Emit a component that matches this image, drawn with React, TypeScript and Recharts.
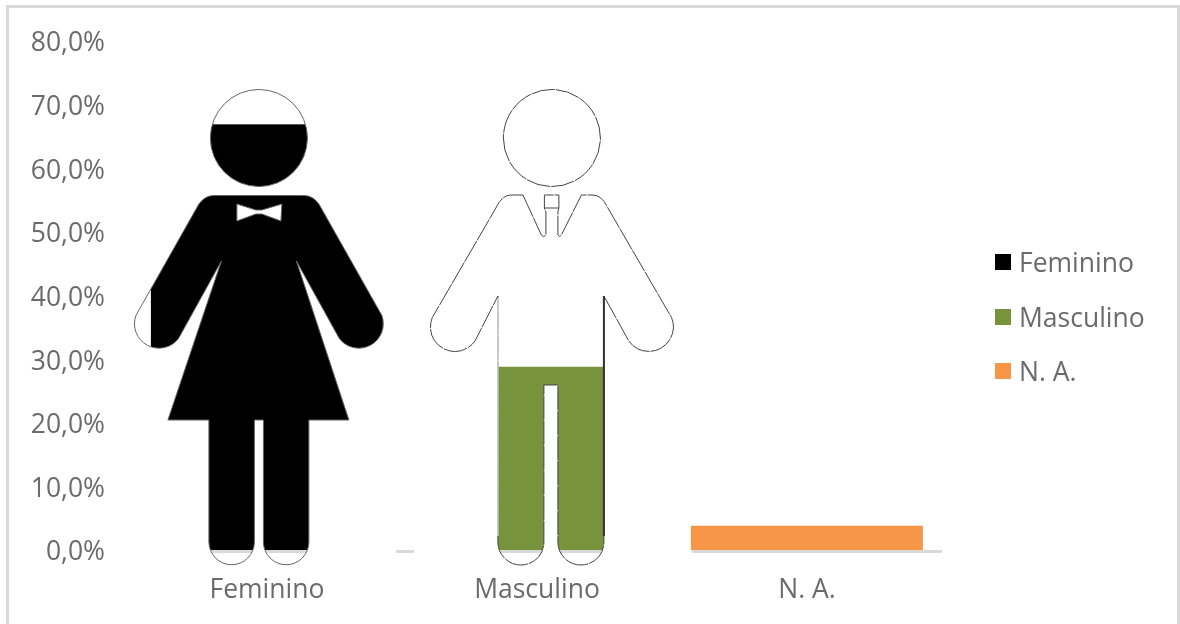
import { Bar, BarChart, Legend, XAxis, YAxis } from "recharts";

const categories = ["Feminino", "Masculino", "N. A."];
const shares = [66.9, 28.8, 3.8];
const seriesColors = ["#000000", "#77933c", "#f79646"];
const yTicks = [0, 10, 20, 30, 40, 50, 60, 70, 80];

const data = categories.map((name, i) => ({ name, [name]: shares[i] }));

const FONT = "'Open Sans', sans-serif";
const TEXT_COLOR = "#6b6b6b";
const FONT_SIZE = 26.5;

// pictogram outlines, in px around the bar base
const WOMAN =
  "M-48.5 -412a48.5 48.5 0 1 0 97 0a48.5 48.5 0 1 0 -97 0Z" +
  "M-45 -354.5L45 -354.5Q54 -354.5 60 -346L123 -234.5A24.5 24.5 0 0 1 80.4 -211.5L37.5 -289L90 -130L50 -130L50 -8" +
  "A22.75 22.75 0 0 1 4.5 -8L4.5 -130L-4.5 -130L-4.5 -8A22.75 22.75 0 0 1 -50 -8L-50 -130L-91 -130L-37.5 -289" +
  "L-80.4 -211.5A24.5 24.5 0 0 1 -123 -234.5L-60 -346Q-54 -354.5 -45 -354.5Z" +
  "M-22 -346L-3 -340L3 -340L23 -346L22 -329L3 -336L-3 -336L-22 -329Z";

const MAN =
  "M0 -412m-48.5 0a48.5 48.5 0 1 0 97 0a48.5 48.5 0 1 0 -97 0Z" +
  "M-29 -355L-10.5 -315Q-8 -312 -6 -315L-6 -338L-7.5 -342L-7.5 -355L7 -355L7 -342L6 -338L6 -315Q8 -312 9.5 -315" +
  "L29.5 -355L41 -355Q50 -355 56 -342L119.6 -232.5A24.5 24.5 0 0 1 76.6 -209.5L52 -254L52 -8A23 23 0 0 1 6 -8" +
  "L6 -165L-8 -165L-8 -8A23 23 0 0 1 -54 -8L-54 -254L-76.6 -209.5A24.5 24.5 0 0 1 -119.6 -232.5L-56 -342" +
  "Q-50 -355 -41 -355Z";

function WomanShape({ x, y, width, height, fill }: any) {
  if (!height) return null;
  const cx = x + width / 2;
  return (
    <g>
      <rect x={x} y={y} width={width} height={height} fill={fill} />
      <g transform={`translate(${cx - 8} ${y + height})`}>
        <path d={`M-127 -470H137V18H-127Z${WOMAN}`} fill="#ffffff" fillRule="evenodd" />
        <path d={WOMAN} fill="none" stroke="#666666" strokeWidth={1} />
      </g>
    </g>
  );
}

function ManShape({ x, y, width, height, fill }: any) {
  if (!height) return null;
  const cx = x + width / 2;
  return (
    <g>
      <rect x={x} y={y} width={width} height={height} fill={fill} />
      <g transform={`translate(${cx + 15} ${y + height})`}>
        <path d={`M-138 -470H140V18H-138Z${MAN}`} fill="#ffffff" fillRule="evenodd" />
        <path d={MAN} fill="none" stroke="#444444" strokeWidth={1} strokeDasharray="24 1" />
        <path d="M-7.5 -342H7" fill="none" stroke="#444444" />
        <path d="M-54 -252V-14" fill="none" stroke="#d4d4d4" strokeWidth={1.5} />
        <path d="M52 -254V-14" fill="none" stroke="#333333" strokeWidth={2} />
      </g>
    </g>
  );
}

function ChartLegend({ payload }: any) {
  return (
    <div style={{ fontFamily: FONT, fontSize: FONT_SIZE, color: TEXT_COLOR }}>
      {(payload || []).map((item: any) => (
        <div key={item.value} style={{ display: "flex", alignItems: "center", height: 54.5 }}>
          <span style={{ width: 16, height: 16, marginRight: 8, background: item.color }} />
          {item.value}
        </div>
      ))}
    </div>
  );
}

export default function App() {
  return (
    <div style={{ position: "absolute", left: 0, top: 0, width: 1180, height: 624, overflow: "hidden", background: "#fff", filter: "blur(0.5px)" }}>
      <div style={{ position: "absolute", left: 6, top: 5, width: 1168, height: 680, border: "3px solid #d9d9d9" }} />
      <BarChart
        width={1180}
        height={624}
        data={data}
        barCategoryGap="7%"
        margin={{ top: 41, right: 58, bottom: 0, left: 0 }}
      >
        <XAxis
          dataKey="name"
          height={74}
          zIndex={100}
          tickLine={false}
          tickMargin={23}
          axisLine={{ stroke: "#d9d9d9", strokeWidth: 3, transform: "translate(0 1.5)" }}
          tick={{ fill: TEXT_COLOR, fontSize: FONT_SIZE, fontFamily: FONT }}
        />
        <YAxis
          width={132}
          domain={[0, 80]}
          ticks={yTicks}
          tickLine={false}
          axisLine={false}
          tickMargin={21}
          tickFormatter={(v: number) => `${v.toFixed(1).replace(".", ",")}%`}
          tick={{ fill: TEXT_COLOR, fontSize: FONT_SIZE, fontFamily: FONT, dy: 1 }}
        />
        <Legend
          layout="vertical"
          align="right"
          verticalAlign="top"
          content={<ChartLegend />}
          wrapperStyle={{ left: 995, top: 235, width: 180 }}
        />
        <Bar dataKey={categories[0]} stackId="a" fill={seriesColors[0]} shape={<WomanShape />} isAnimationActive={false} />
        <Bar dataKey={categories[1]} stackId="a" fill={seriesColors[1]} shape={<ManShape />} isAnimationActive={false} />
        <Bar dataKey={categories[2]} stackId="a" fill={seriesColors[2]} isAnimationActive={false} />
      </BarChart>
    </div>
  );
}
